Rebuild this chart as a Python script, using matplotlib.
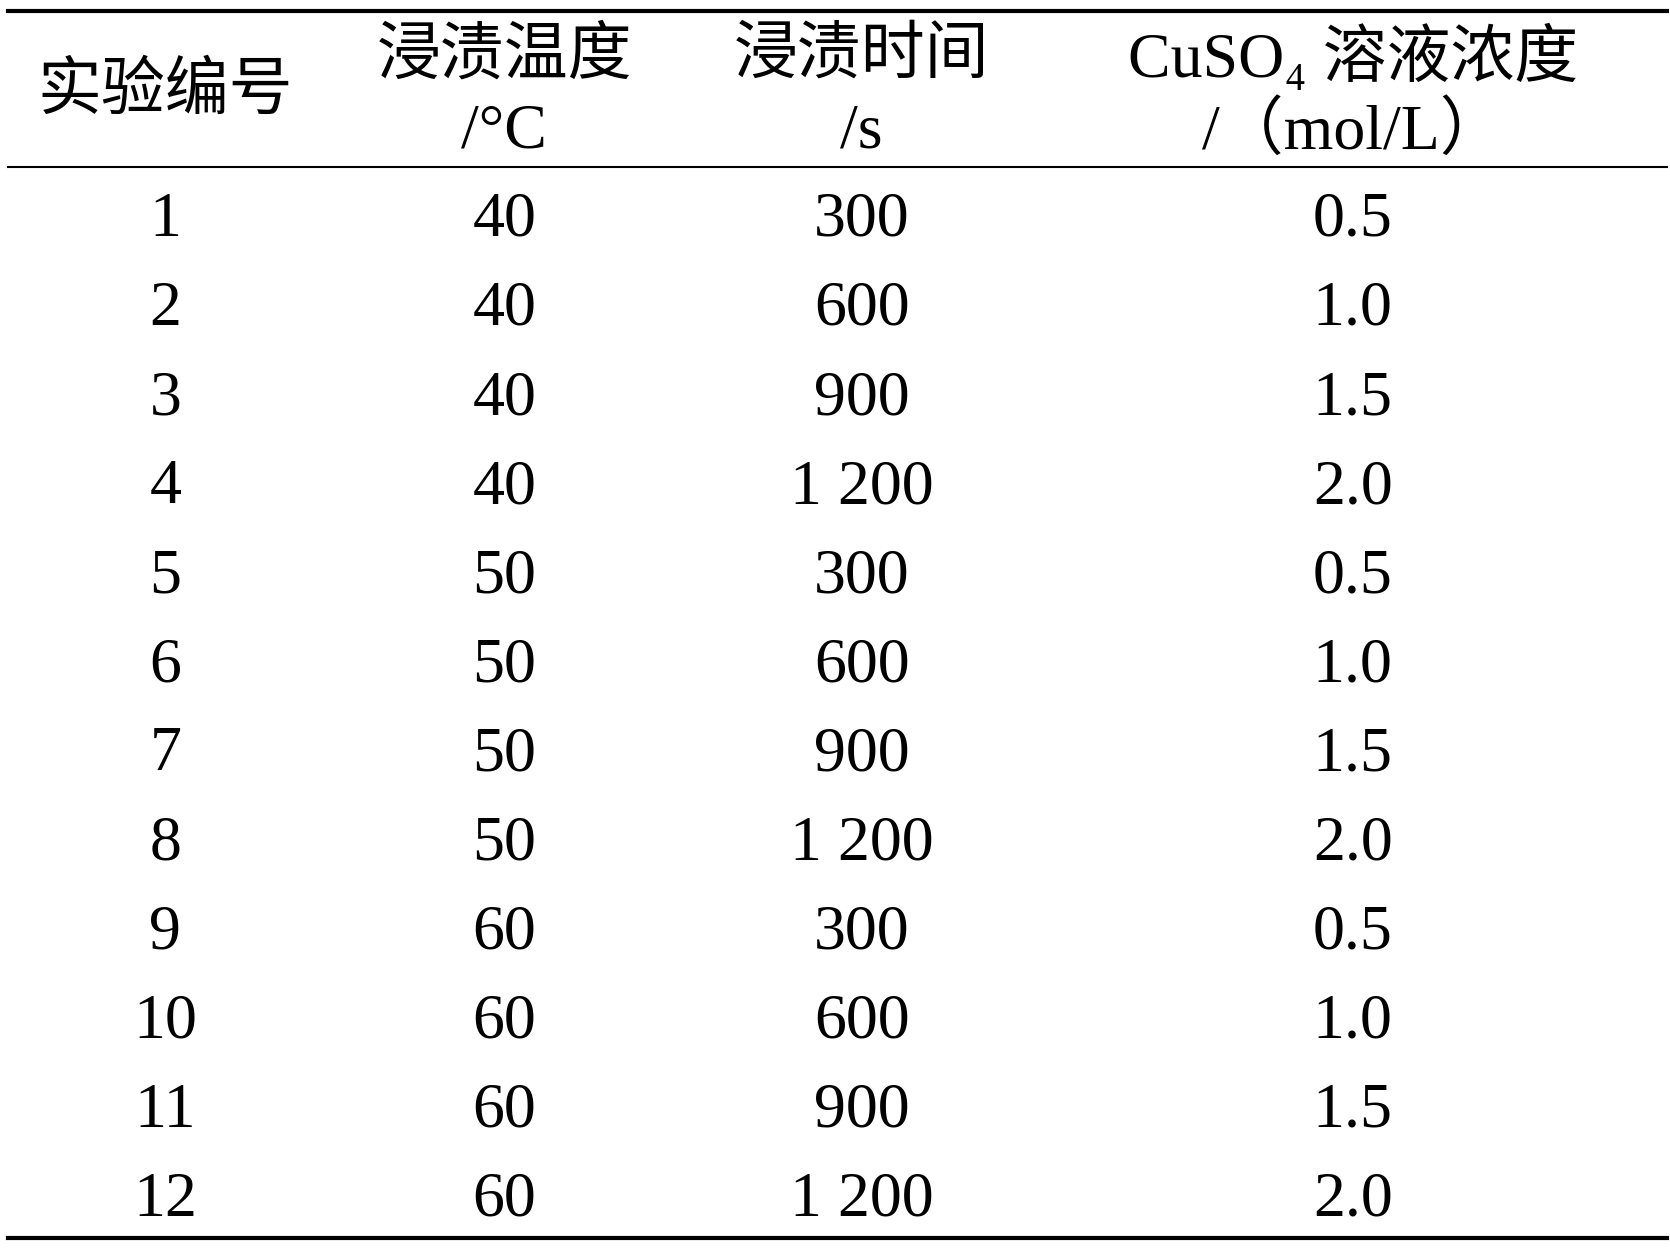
import matplotlib
matplotlib.use("Agg")
import matplotlib.pyplot as plt

plt.rcParams['font.family'] = ['Liberation Serif', 'Noto Sans CJK SC']

headers = [["实验编号"], ["浸渍温度", "/°C"], ["浸渍时间", "/s"],
           ["CuSO₄ 溶液浓度", "/（mol/L）"]]
exp_no = [str(i) for i in range(1, 13)]
temp = ["40"] * 4 + ["50"] * 4 + ["60"] * 4
time_s = ["300", "600", "900", "1 200"] * 3
conc = ["0.5", "1.0", "1.5", "2.0"] * 3

col_x = [0.099, 0.302, 0.516, 0.81]

fig = plt.figure(figsize=(16.7, 12.48), dpi=100)
ax = fig.add_axes([0, 0, 1, 1])
ax.set_xlim(0, 1)
ax.set_ylim(1, 0)
ax.axis('off')

fs = 46
# header
for x, h in zip(col_x, headers):
    if len(h) == 1:
        ax.text(x, 0.075, h[0], ha='center', va='center', fontsize=fs)
    else:
        ax.text(x, 0.046, h[0], ha='center', va='center', fontsize=fs)
        ax.text(x, 0.106, h[1], ha='center', va='center', fontsize=fs)

# body
row_top, row_bot = 0.177, 0.962
step = (row_bot - row_top) / (len(exp_no) - 1)
for i, row in enumerate(zip(exp_no, temp, time_s, conc)):
    y = row_top + i * step
    for x, v in zip(col_x, row):
        ax.text(x, y, v, ha='center', va='center', fontsize=fs)

# rules
ax.plot([0.005, 0.998], [0.009, 0.009], color='black', lw=3)
ax.plot([0.005, 0.998], [0.134, 0.134], color='black', lw=1.5)
ax.plot([0.005, 0.998], [0.992, 0.992], color='black', lw=3)

fig.savefig("out.png", dpi=100)
